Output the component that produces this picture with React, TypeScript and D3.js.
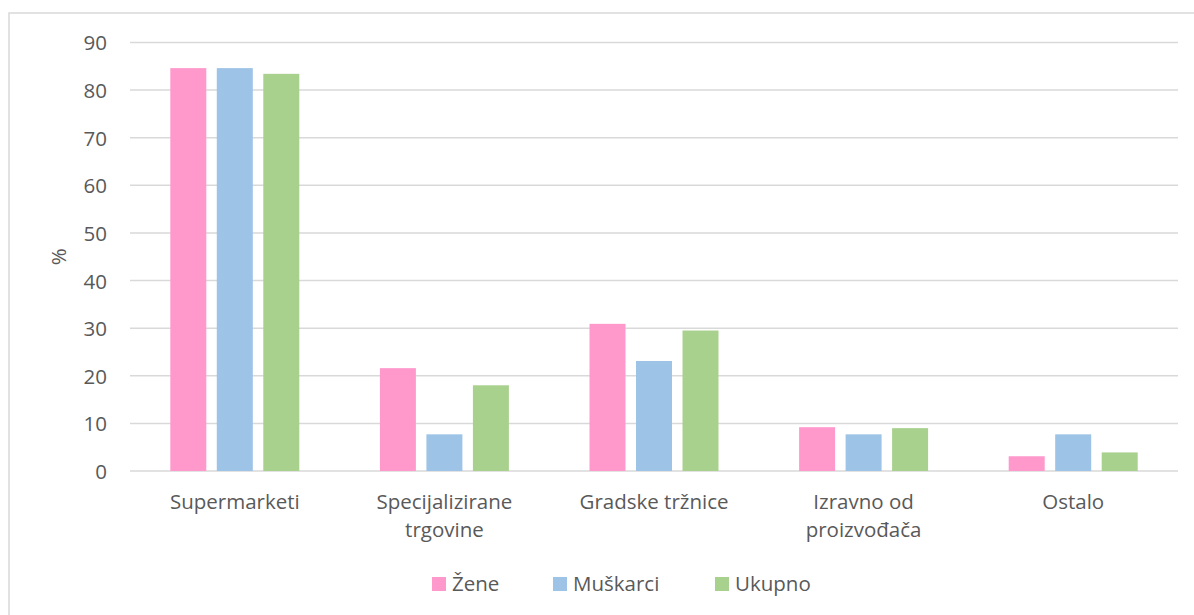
import React from "react";
import * as d3 from "d3";

const categories = ["Supermarketi", "Specijalizirane trgovine", "Gradske tržnice", "Izravno od proizvođača", "Ostalo"];
const categoryLines = [["Supermarketi"], ["Specijalizirane", "trgovine"], ["Gradske tržnice"], ["Izravno od", "proizvođača"], ["Ostalo"]];
const seriesNames = ["Žene", "Muškarci", "Ukupno"];
const zene = [84.6, 21.6, 30.9, 9.2, 3.1];
const muskarci = [84.6, 7.7, 23.1, 7.7, 7.7];
const ukupno = [83.4, 18.0, 29.5, 9.0, 3.9];
const seriesValues = [zene, muskarci, ukupno];
const colors = ["#FF99CC", "#9DC3E6", "#A9D18E"];
const yTicks = [0, 10, 20, 30, 40, 50, 60, 70, 80, 90];

const W = 1194;
const H = 615;
const plotLeft = 130;
const plotRight = 1178;
const plotTop = 42.4;
const plotBottom = 471;
const FONT = "'Open Sans', sans-serif";
const FS = 20.5;
const TEXT = "#595959";
const GRID = "#d9d9d9";
const legendX = [432, 553, 715];

export default function App() {
  const x0 = d3.scaleBand<string>().domain(categories).range([plotLeft, plotRight]).padding(0);
  const bw = x0.bandwidth();
  const groupW = 129;
  const x1 = d3
    .scaleBand<string>()
    .domain(seriesNames)
    .range([(bw - groupW) / 2, (bw + groupW) / 2])
    .paddingInner(0.2258)
    .paddingOuter(0);
  const y = d3.scaleLinear().domain([0, 90]).range([plotBottom, plotTop]);

  return (
    <svg width={W} height={H} style={{ position: "absolute", left: 0, top: 0, background: "#fff" }} fontFamily={FONT}>
      <rect x={9} y={13} width={W + 20} height={H + 20} fill="#fff" stroke={GRID} strokeWidth={1.5} />
      {yTicks.map((t) => (
        <g key={t}>
          <line x1={plotLeft} x2={plotRight} y1={y(t)} y2={y(t)} stroke={GRID} strokeWidth={1.5} />
          <text x={107} y={y(t)} textAnchor="end" dominantBaseline="central" fontSize={FS} fill={TEXT}>
            {t}
          </text>
        </g>
      ))}
      <text
        transform={`translate(66,${(plotTop + plotBottom) / 2}) rotate(-90)`}
        textAnchor="middle"
        fontSize={FS}
        fill={TEXT}
      >
        %
      </text>
      {categories.map((c, ci) => (
        <g key={c} transform={`translate(${x0(c)},0)`}>
          {seriesNames.map((s, si) => {
            const v = seriesValues[si][ci];
            return (
              <rect
                key={s}
                x={x1(s)}
                y={y(v)}
                width={x1.bandwidth()}
                height={y(0) - y(v)}
                fill={colors[si]}
              />
            );
          })}
          {categoryLines[ci].map((line, li) => (
            <text key={li} x={bw / 2} y={509 + li * 28} textAnchor="middle" fontSize={FS} fill={TEXT}>
              {line}
            </text>
          ))}
        </g>
      ))}
      {seriesNames.map((s, si) => (
        <g key={s} transform={`translate(${legendX[si]},0)`}>
          <rect x={0} y={577} width={14} height={14} fill={colors[si]} />
          <text x={20} y={591} fontSize={FS} fill={TEXT}>
            {s}
          </text>
        </g>
      ))}
    </svg>
  );
}
